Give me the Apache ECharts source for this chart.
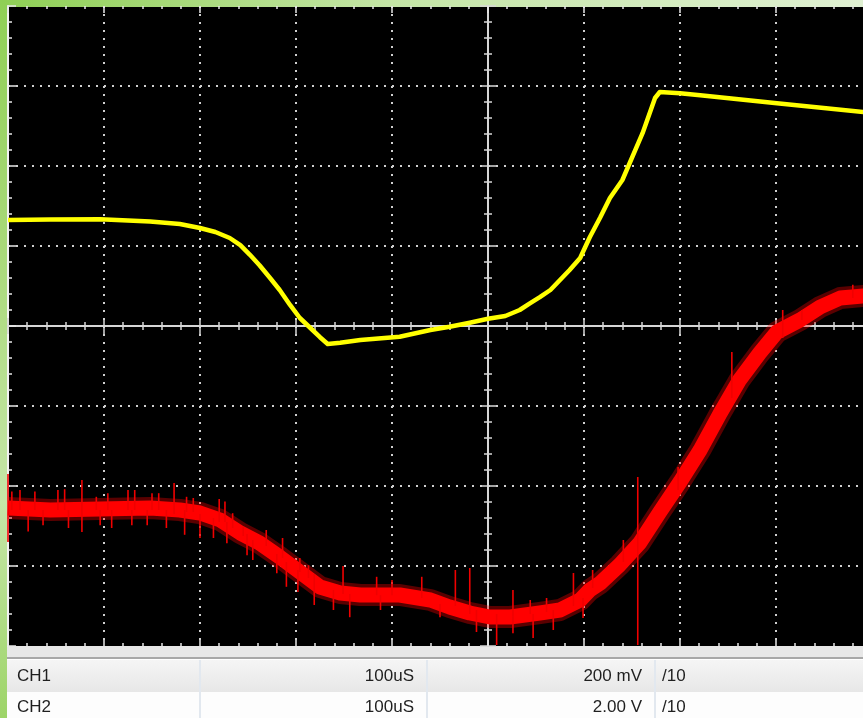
<!DOCTYPE html>
<html>
<head>
<meta charset="utf-8">
<script src="https://cdn.jsdelivr.net/npm/echarts@6/dist/echarts.min.js"></script>
<style>
  html, body { margin: 0; padding: 0; background: #ffffff; }
  #scope { width: 863px; height: 718px; }
</style>
</head>
<body>
<div id="scope"></div>
<script>
// Horizontal scale: microseconds across the screen (100 uS per division)
const timeMin = 0;
const timeMax = 1000;
const timeStep = 100;

// CH1: 200 mV per division
const ch1Min = -800, ch1Max = 800, ch1Step = 200;
// CH2: 2.00 V per division
const ch2Min = -8, ch2Max = 8, ch2Step = 2;

// CH1 trace (yellow), time in uS and level in mV
const ch1Time = [0, 44, 96, 148, 179, 200, 216, 231, 242, 252, 262, 273, 283, 294, 304, 315, 325, 333, 346, 367,
  408, 440, 460, 481, 500, 518, 533, 544, 554, 565, 575, 585, 596, 606, 617, 627, 640, 661, 674, 679,
  700, 721, 801, 891, 900];
const ch1Millivolts = [265, 266, 267, 261, 255, 245, 235, 220, 202, 178, 152, 120, 90, 52, 20, -5, -28, -45, -42, -35,
  -27, -10, -2, 8, 18, 25, 40, 57, 72, 90, 115, 140, 170, 222, 272, 320, 365, 482, 570, 585,
  582, 577, 557, 535, 532];

// CH2 trace (red), time in uS and level in V
const ch2Time = [0, 44, 96, 148, 179, 200, 221, 242, 262, 283, 304, 325, 346, 367, 408, 440, 460, 481, 502, 523,
  554, 575, 596, 606, 617, 637, 658, 679, 700, 721, 742, 762, 783, 801, 825, 846, 867, 891, 900];
const ch2Volts = [-4.55, -4.6, -4.575, -4.55, -4.6, -4.675, -4.85, -5.175, -5.425, -5.775, -6.15, -6.525, -6.675, -6.725,
  -6.725, -6.85, -7.025, -7.175, -7.275, -7.275, -7.175, -7.1, -6.85, -6.6, -6.425, -5.975, -5.425, -4.65, -3.9,
  -3.1, -2.175, -1.35, -0.675, -0.15, 0.15, 0.475, 0.7, 0.75, 0.75];

// CH2 glitches: time in uS with the high and low extremes in V
const ch2GlitchTime = [
  0, 4, 12.5, 21, 28, 36.5, 52, 59, 63, 77, 92, 96, 104, 108, 125, 129, 132, 145, 150, 157,
  165, 173, 184, 186, 193, 200, 214, 220, 226, 228, 234, 245, 249, 255, 269, 280, 286, 290, 302, 304,
  313, 319, 339, 349, 356, 384, 388, 400, 431, 450, 466, 481, 488, 509, 526, 526, 544, 547, 561, 568,
  589, 599, 609, 641, 656, 698, 754, 807, 827, 880];
const ch2GlitchHigh = [
  -3.7, -4.14, -4.1, -4.6, -4.14, -4.6, -4.1, -4.08, -4.6, -3.85, -4.27, -4.6, -4.18, -4.6, -4.1, -4.6, -4.1, -4.6, -4.18, -4.18,
  -4.6, -3.925, -4.6, -4.27, -4.3, -4.7, -4.8, -4.325, -4.39, -4.9, -4.68, -5.02, -5.2, -5.35, -5.1, -5.7, -5.3, -5.9, -6.1, -5.8,
  -5.98, -6.2, -6.6, -6.0, -6.7, -6.27, -6.73, -6.35, -6.27, -6.95, -6.1, -6.05, -7.1, -7.2, -6.6, -7.27, -6.85, -7.2, -6.8, -7.1,
  -6.175, -6.8, -6.1, -5.35, -3.775, -3.525, -0.65, 0.4, 0.4, 1.03];
const ch2GlitchLow = [
  -5.4, -4.6, -4.6, -5.14, -4.6, -4.98, -4.6, -4.6, -5.05, -5.15, -4.6, -4.98, -4.6, -5.05, -4.6, -4.98, -4.6, -4.98, -4.6, -4.6,
  -5.05, -4.7, -5.22, -4.65, -4.65, -5.3, -5.3, -4.9, -4.9, -5.43, -5.05, -5.25, -5.73, -5.85, -5.5, -6.18, -5.8, -6.52, -6.65, -6.15,
  -6.3, -6.975, -7.1, -6.7, -7.28, -6.73, -7.1, -6.73, -6.8, -7.28, -7.0, -7.2, -7.65, -7.975, -7.27, -7.68, -7.2, -7.8, -7.15, -7.6,
  -7.0, -7.3, -6.55, -5.9, -7.975, -4.1, -1.8, -0.3, 0.15, 0.7];

// Channel settings table
const channelNames = ['CH1', 'CH2'];
const timePerDiv = ['100uS', '100uS'];
const voltsPerDiv = ['200 mV', '2.00 V'];
const probeRatio = ['/10', '/10'];

const zip = (xs, ys) => xs.map((x, i) => [x, ys[i]]);

const tickColor = '#e6e6e6';
const dotted = { color: '#cfcfcf', width: 2, type: [2, 6] };

function xAxisBase(extra) {
  return Object.assign({
    type: 'value', min: timeMin, max: timeMax, interval: timeStep,
    axisLabel: { show: false },
    splitLine: { show: false },
    axisLine: { show: false, onZero: false }
  }, extra);
}
function yAxisBase(extra) {
  return Object.assign({
    type: 'value', min: ch1Min, max: ch1Max, interval: ch1Step,
    axisLabel: { show: false },
    splitLine: { show: false },
    axisLine: { show: false, onZero: false }
  }, extra);
}

const font = '17px "Liberation Sans", Arial, sans-serif';
const rowCenters = [676, 707];
const tableGraphics = [];
channelNames.forEach((name, i) => {
  const y = rowCenters[i];
  tableGraphics.push(
    { type: 'text', style: { text: name, x: 17, y: y, font: font, fill: '#1f1f1f', textAlign: 'left', textVerticalAlign: 'middle' } },
    { type: 'text', style: { text: timePerDiv[i], x: 414, y: y, font: font, fill: '#1f1f1f', textAlign: 'right', textVerticalAlign: 'middle' } },
    { type: 'text', style: { text: voltsPerDiv[i], x: 642, y: y, font: font, fill: '#1f1f1f', textAlign: 'right', textVerticalAlign: 'middle' } },
    { type: 'text', style: { text: probeRatio[i], x: 662, y: y, font: font, fill: '#1f1f1f', textAlign: 'left', textVerticalAlign: 'middle' } }
  );
});

const chart = echarts.init(document.getElementById('scope'), null, { renderer: 'canvas' });

chart.setOption({
  animation: false,
  backgroundColor: '#ffffff',
  grid: {
    left: 8, top: 6, width: 960, height: 640,
    show: true, backgroundColor: '#000000', borderWidth: 0,
    containLabel: false, outerBoundsMode: 'none'
  },
  xAxis: [
    // bottom edge with the dotted division grid
    xAxisBase({
      position: 'bottom',
      axisTick: { show: true, inside: true, length: 6, lineStyle: { color: tickColor, width: 1.5 } },
      minorTick: { show: true, splitNumber: 5, length: 3, lineStyle: { color: tickColor, width: 1.5 } },
      splitLine: { show: true, showMinLine: false, showMaxLine: false, lineStyle: dotted }
    }),
    // top edge
    xAxisBase({
      position: 'top',
      axisTick: { show: true, inside: true, length: 7, lineStyle: { color: tickColor, width: 1.5 } },
      minorTick: { show: true, splitNumber: 5, length: 3, lineStyle: { color: tickColor, width: 1.5 } }
    }),
    // centre horizontal axis, ticks upward
    xAxisBase({
      position: 'bottom', offset: -320,
      axisLine: { show: true, onZero: false, lineStyle: { color: '#d6d6d6', width: 2 } },
      axisTick: { show: true, inside: true, length: 8, lineStyle: { color: '#d6d6d6', width: 1.5 } },
      minorTick: { show: true, splitNumber: 5, length: 4, lineStyle: { color: '#d6d6d6', width: 1.5 } }
    }),
    // centre horizontal axis, ticks downward
    xAxisBase({
      position: 'bottom', offset: -320,
      axisTick: { show: true, inside: false, length: 8, lineStyle: { color: '#d6d6d6', width: 1.5 } },
      minorTick: { show: true, splitNumber: 5, length: 4, lineStyle: { color: '#d6d6d6', width: 1.5 } }
    })
  ],
  yAxis: [
    // CH1 scale on the left edge with the dotted division grid
    yAxisBase({
      position: 'left',
      axisLine: { show: true, onZero: false, lineStyle: { color: '#f2f2f2', width: 2 } },
      axisTick: { show: true, inside: true, length: 8, lineStyle: { color: tickColor, width: 1.5 } },
      minorTick: { show: true, splitNumber: 5, length: 4, lineStyle: { color: tickColor, width: 1.5 } },
      splitLine: { show: true, showMinLine: false, showMaxLine: false, lineStyle: dotted }
    }),
    // CH2 scale
    { type: 'value', min: ch2Min, max: ch2Max, interval: ch2Step, show: false, position: 'right' },
    // centre vertical axis, ticks rightward
    yAxisBase({
      position: 'left', offset: -480,
      axisLine: { show: true, onZero: false, lineStyle: { color: '#d6d6d6', width: 2 } },
      axisTick: { show: true, inside: true, length: 8, lineStyle: { color: '#d6d6d6', width: 1.5 } },
      minorTick: { show: true, splitNumber: 5, length: 4, lineStyle: { color: '#d6d6d6', width: 1.5 } }
    }),
    // centre vertical axis, ticks leftward
    yAxisBase({
      position: 'left', offset: -480,
      axisTick: { show: true, inside: false, length: 8, lineStyle: { color: '#d6d6d6', width: 1.5 } },
      minorTick: { show: true, splitNumber: 5, length: 4, lineStyle: { color: '#d6d6d6', width: 1.5 } }
    })
  ],
  series: [
    {
      name: 'CH2 noise', type: 'line', xAxisIndex: 0, yAxisIndex: 1,
      data: zip(ch2Time, ch2Volts), showSymbol: false, silent: true,
      lineStyle: { color: 'rgba(255,0,0,0.35)', width: 22, join: 'round' }, z: 2
    },
    {
      name: 'CH2', type: 'line', xAxisIndex: 0, yAxisIndex: 1,
      data: zip(ch2Time, ch2Volts), showSymbol: false,
      lineStyle: { color: '#ff0000', width: 15, join: 'round' }, z: 3
    },
    {
      name: 'CH2 glitches', type: 'custom', xAxisIndex: 0, yAxisIndex: 1,
      data: ch2GlitchTime.map((t, i) => [t, ch2GlitchHigh[i], ch2GlitchLow[i]]),
      encode: { x: 0, y: [1, 2] },
      renderItem: function (params, api) {
        const top = api.coord([api.value(0), api.value(1)]);
        const bottom = api.coord([api.value(0), api.value(2)]);
        return {
          type: 'line',
          shape: { x1: top[0], y1: top[1], x2: bottom[0], y2: bottom[1] },
          style: { stroke: '#f00000', lineWidth: 1.6 }
        };
      },
      z: 4
    },
    {
      name: 'CH1', type: 'line', xAxisIndex: 0, yAxisIndex: 0,
      data: zip(ch1Time, ch1Millivolts), showSymbol: false,
      lineStyle: { color: '#ffff00', width: 4.5, join: 'round' }, z: 5
    }
  ],
  graphic: [
    // window frame
    { type: 'rect', shape: { x: 0, y: 0, width: 863, height: 7 }, silent: true,
      style: { fill: new echarts.graphic.LinearGradient(0, 0, 1, 0, [
        { offset: 0, color: '#8fcf55' }, { offset: 0.45, color: '#c4e5a6' }, { offset: 1, color: '#dff0d2' }]) } },
    { type: 'rect', shape: { x: 0, y: 0, width: 7, height: 718 }, silent: true,
      style: { fill: new echarts.graphic.LinearGradient(0, 0, 0, 1, [
        { offset: 0, color: '#8fcf55' }, { offset: 0.35, color: '#a9d97a' }, { offset: 0.7, color: '#c6e6a8' }, { offset: 1, color: '#9dd468' }]) } },
    // settings table
    { type: 'rect', shape: { x: 7, y: 646, width: 856, height: 12 }, silent: true, style: { fill: '#e8e8e8' } },
    { type: 'rect', shape: { x: 7, y: 657, width: 856, height: 2 }, silent: true, style: { fill: '#a8a8a8' } },
    { type: 'rect', shape: { x: 7, y: 659, width: 856, height: 1 }, silent: true, style: { fill: '#ffffff' } },
    { type: 'rect', shape: { x: 7, y: 660, width: 856, height: 32 }, silent: true,
      style: { fill: new echarts.graphic.LinearGradient(0, 0, 0, 1, [
        { offset: 0, color: '#f5f5f5' }, { offset: 1, color: '#e7e7e7' }]) } },
    { type: 'rect', shape: { x: 7, y: 692, width: 856, height: 26 }, silent: true, style: { fill: '#fdfdfd' } },
    { type: 'rect', shape: { x: 199, y: 660, width: 2, height: 58 }, silent: true, style: { fill: '#e2e8ef' } },
    { type: 'rect', shape: { x: 426, y: 660, width: 2, height: 58 }, silent: true, style: { fill: '#e2e8ef' } },
    { type: 'rect', shape: { x: 654, y: 660, width: 2, height: 58 }, silent: true, style: { fill: '#e2e8ef' } }
  ].concat(tableGraphics)
});
</script>
</body>
</html>
